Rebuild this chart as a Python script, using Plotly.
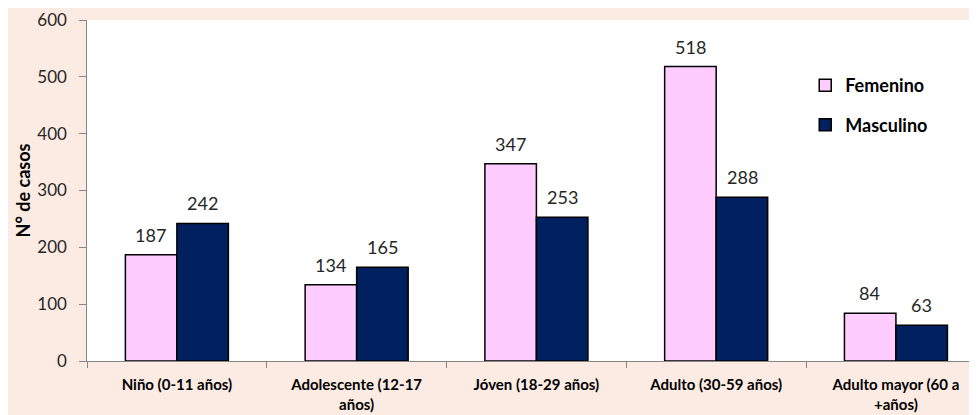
import plotly.graph_objects as go

categories = ["Niño (0-11 años)", "Adolescente (12-17<br>años)", "Jóven (18-29 años)",
              "Adulto (30-59 años)", "Adulto mayor (60 a<br>+años)"]
femenino = [187, 134, 347, 518, 84]
masculino = [242, 165, 253, 288, 63]

FONT = "Lato"
PINK = "#FFCCFF"
NAVY = "#002060"
BG = "#FCEBE2"

fig = go.Figure()
fig.add_trace(go.Bar(name="<b>Femenino</b>", x=categories, y=femenino, marker=dict(color=PINK, line=dict(color="#000000", width=1.5)), legendgroup="f"))
fig.add_trace(go.Bar(name="<b>Masculino</b>", x=categories, y=masculino, marker=dict(color=NAVY, line=dict(color="#000000", width=1.5)), legendgroup="m"))

ann = []
for vals, shift in ((femenino, -26), (masculino, 26)):
    for c, v in zip(categories, vals):
        ann.append(dict(x=c, y=v, xref="x", yref="y", text=str(v), showarrow=False,
                        xshift=shift, yshift=7, yanchor="bottom",
                        font=dict(family=FONT, size=18, color="#262626")))

# page body has an 8px margin, so the figure is sized/offset to compensate
fig.update_layout(
    width=969, height=407,
    margin=dict(l=79, r=0, t=12, b=54, autoexpand=False),
    paper_bgcolor=BG, plot_bgcolor="#FFFFFF",
    barmode="group", bargap=0.427, bargroupgap=0,
    annotations=ann,
    showlegend=True,
    legend=dict(x=0.807, y=0.862, xanchor="left", yanchor="top", bgcolor="rgba(0,0,0,0)",
                font=dict(family=FONT, size=18, color="#000000"), tracegroupgap=13,
                itemclick=False),
    font=dict(family=FONT),
)
fig.update_yaxes(range=[0, 600], dtick=100, showgrid=False, showline=True, linecolor="#868686", linewidth=1,
                 ticks="outside", ticklen=7, tickcolor="#868686", zeroline=False, automargin=False,
                 ticksuffix="\u00a0\u00a0",
                 tickfont=dict(family=FONT, size=17, color="#262626"),
                 title=dict(text="<b>N° de casos</b>", font=dict(family=FONT, size=18, color="#000000"), standoff=2))
fig.update_xaxes(range=[-0.5, 4.451], showline=True, linecolor="#868686", linewidth=1,
                 ticks="outside", ticklen=6, tickcolor="#868686", tickson="boundaries", automargin=False,
                 ticklabelstandoff=10,
                 tickfont=dict(family=FONT, size=15, color="#000000"))
fig.update_xaxes(ticktext=["<b>" + c + "</b>" for c in categories], tickvals=categories)

fig.write_html("out.html")
